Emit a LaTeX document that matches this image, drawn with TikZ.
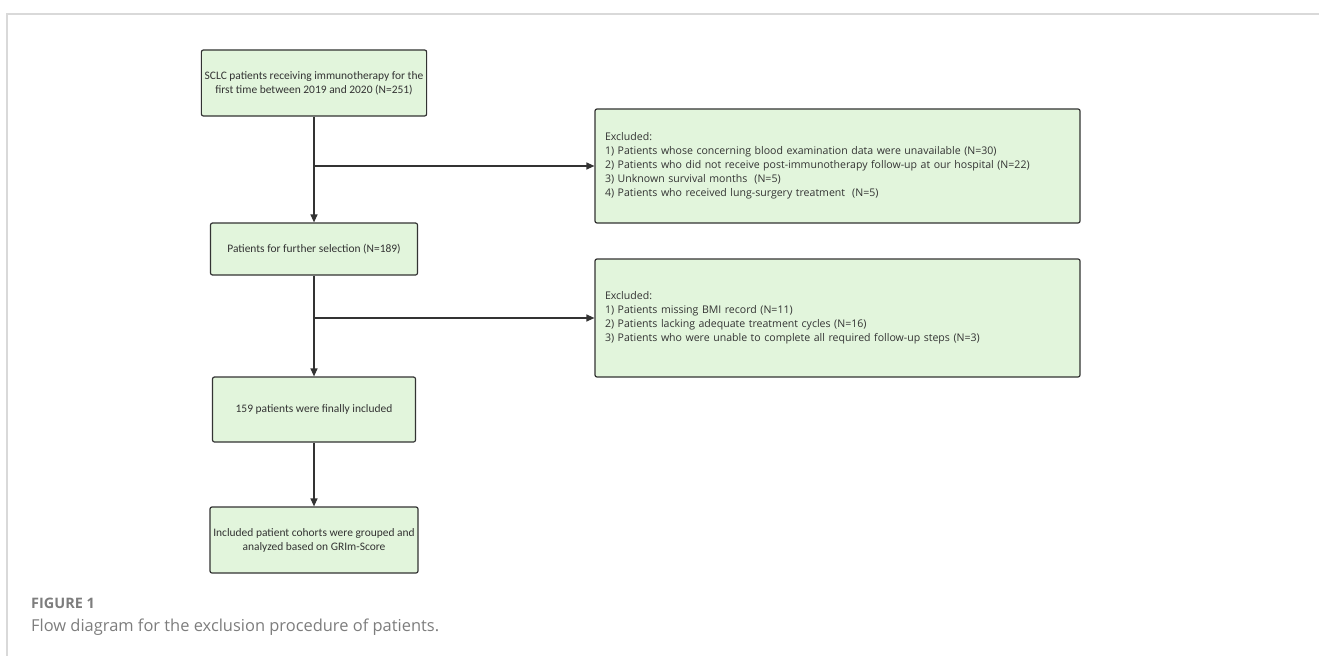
\documentclass[tikz,border=0pt]{standalone}
\usepackage{fontspec}
\setmainfont{Open Sans}
\newfontfamily\boxfont{Carlito}
\usetikzlibrary{arrows.meta}

\definecolor{boxfill}{RGB}{226,245,220}
\definecolor{inkgray}{RGB}{51,51,51}
\definecolor{framegray}{RGB}{217,217,217}
\definecolor{capgray}{RGB}{125,125,125}

\tikzset{
    flowbox/.style={draw=inkgray, fill=boxfill, line width=1.2bp, rounded corners=2bp,
        text=inkgray, align=center, minimum width=207bp, minimum height=52bp,
        font=\boxfont\fontsize{11.5}{14}\selectfont},
    exclbox/.style={draw=inkgray, fill=boxfill, line width=1.2bp, rounded corners=2bp,
        text=inkgray, align=left, text width=465bp, inner xsep=10bp, minimum height=114bp,
        font=\fontsize{10.6}{14}\selectfont},
    arr/.style={draw=inkgray, line width=1.2bp, -{Triangle[length=8bp,width=7bp]}}
}

\begin{document}
\begin{tikzpicture}[x=1bp, y=-1bp]
    \useasboundingbox (0,0) rectangle (1319,656);

    % figure frame
    \draw[framegray, line width=1.2bp] (7,656) -- (7,14) -- (1319,14);

    % main column
    \node[flowbox, minimum width=220bp, minimum height=66bp] (start) at (314,83)
        {SCLC patients receiving immunotherapy for the\\first time between 2019 and 2020 (N=251)};
    \node[flowbox] (select) at (314,249) {Patients for further selection (N=189)};
    \node[flowbox, minimum width=203bp, minimum height=65bp] (final) at (314,409.5)
        {159 patients were finally included};
    \node[flowbox, minimum height=66bp] (group) at (314,540)
        {Included patient cohorts were grouped and\\analyzed based on GRIm-Score};

    % exclusion boxes
    \node[exclbox] (excla) at (837.5,166) {Excluded:\\
        1) Patients whose concerning blood examination data were unavailable (N=30)\\
        2) Patients who did not receive post-immunotherapy follow-up at our hospital (N=22)\\
        3) Unknown survival months~~(N=5)\\
        4) Patients who received lung-surgery treatment~~(N=5)};
    \node[exclbox, minimum height=118bp] (exclb) at (837.5,318) {Excluded:\\
        1) Patients missing BMI record (N=11)\\
        2) Patients lacking adequate treatment cycles (N=16)\\
        3) Patients who were unable to complete all required follow-up steps (N=3)};

    % arrows
    \draw[arr] (start) -- (select);
    \draw[arr] (select) -- (final);
    \draw[arr] (final) -- (group);
    \draw[arr] (start.south |- excla.west) -- (excla.west);
    \draw[arr] (select.south |- exclb.west) -- (exclb.west);

    % caption
    \node[anchor=west, text=capgray, font=\fontsize{14.5}{16}\selectfont\bfseries, inner sep=0pt] (figno) at (31,603) {FIGURE 1};
    \node[anchor=west, text=capgray, font=\fontsize{16.5}{19}\selectfont, inner sep=0pt] (caption) at (31,627)
        {Flow diagram for the exclusion procedure of patients.};
\end{tikzpicture}
\end{document}
